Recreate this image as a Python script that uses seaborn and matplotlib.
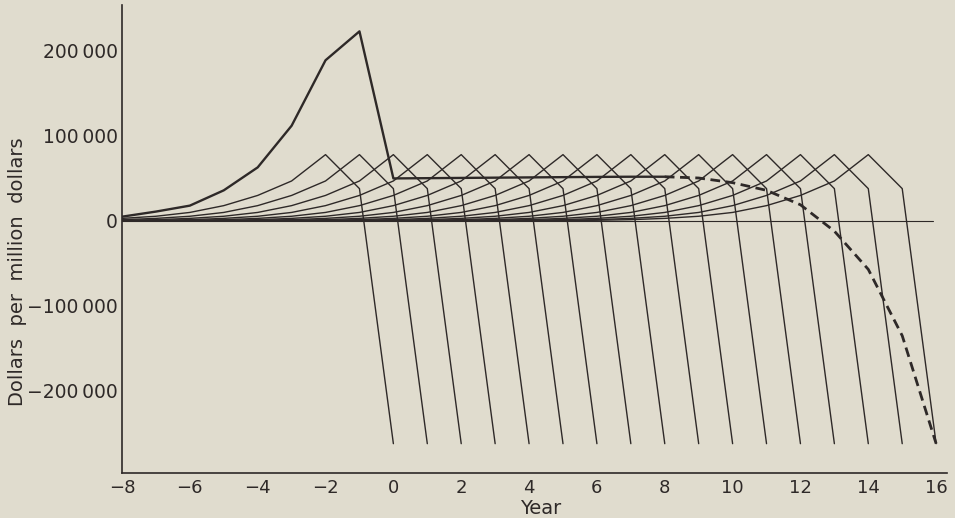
import matplotlib
matplotlib.use("Agg")
import matplotlib.pyplot as plt
import pandas as pd
import seaborn as sns

# main project curve: build-up, peak, then steady return (solid) and decline (dashed)
main_years = [-8, -7, -6, -5, -4, -3, -2, -1, 0, 1, 2, 3, 4, 5, 6, 7, 8]
main_values = [5000, 11000, 18000, 36000, 63000, 112000, 189000, 223000,
               50000, 50300, 50600, 50900, 51200, 51500, 51800, 52000, 52000]

tail_years = [8, 9, 10, 11, 12, 13, 14, 15, 16]
tail_values = [52000, 50500, 45000, 36000, 19000, -12000, -57000, -135000, -262000]

# the small replacement curves all share one shape, peaking one year apart
peak_years = list(range(-2, 15))
profile_offsets = [-10, -9, -8, -7, -6, -5, -4, -3, -2, -1, 0, 1, 2]
profile_values = [200, 400, 800, 1500, 3000, 5500, 10000, 18000, 30000,
                  47000, 78000, 38000, -262000]

zero_line_years = [-8, 15.9]
zero_line_values = [0, 0]

x_ticks = list(range(-8, 17))
x_labels = [f"{t}".replace("-", "\u2212") if t % 2 == 0 else "" for t in x_ticks]
y_ticks = [-200000, -100000, 0, 100000, 200000]
y_labels = ["\u2212200\u2009000", "\u2212100\u2009000", "0", "100\u2009000", "200\u2009000"]

BG = "#e0dcce"
INK = "#2e2928"

sns.set_style("white", {"axes.facecolor": BG, "figure.facecolor": BG})
plt.rcParams["font.family"] = ["DejaVu Sans"]
plt.rcParams["text.color"] = INK
plt.rcParams["axes.labelcolor"] = INK
plt.rcParams["xtick.color"] = INK
plt.rcParams["ytick.color"] = INK

rows = []
for p in peak_years:
    for off, val in zip(profile_offsets, profile_values):
        if p + off >= -8:
            rows.append({"curve": p, "year": p + off, "value": val})
small_df = pd.DataFrame(rows)

fig = plt.figure(figsize=(9.55, 5.18), dpi=100)
ax = fig.add_axes([122 / 955, 45 / 518, 825 / 955, 468 / 518])

sns.lineplot(x=zero_line_years, y=zero_line_values, color=INK, lw=0.8, ax=ax)
sns.lineplot(data=small_df, x="year", y="value", units="curve", estimator=None,
             sort=False, color=INK, lw=1.0, ax=ax)
sns.lineplot(x=main_years, y=main_values, color=INK, lw=1.7, sort=False, ax=ax)
sns.lineplot(x=tail_years, y=tail_values, color=INK, lw=2.0, sort=False,
             dashes=False, ax=ax).lines[-1].set_dashes((3.5, 2))

ax.set_xlim(-8, 16.32)
ax.set_ylim(-296500, 254000)
ax.set_xticks(x_ticks)
ax.set_xticklabels(x_labels, fontsize=13)
ax.set_yticks(y_ticks)
ax.set_yticklabels(y_labels, fontsize=13.5)
ax.tick_params(axis="x", direction="in", length=7, width=1, pad=4)
ax.tick_params(axis="y", direction="in", length=8, width=1, pad=3)

for side in ["top", "right"]:
    ax.spines[side].set_visible(False)
for side in ["left", "bottom"]:
    ax.spines[side].set_color(INK)
    ax.spines[side].set_linewidth(1.2)

ax.set_xlabel("Year", fontsize=14)
ax.set_ylabel("Dollars  per  million  dollars", fontsize=14)
ax.xaxis.set_label_coords(0.508, -0.055)
ax.yaxis.set_label_coords(-0.115, 0.43)

fig.savefig("out.png", dpi=100, facecolor=BG)
plt.close(fig)
